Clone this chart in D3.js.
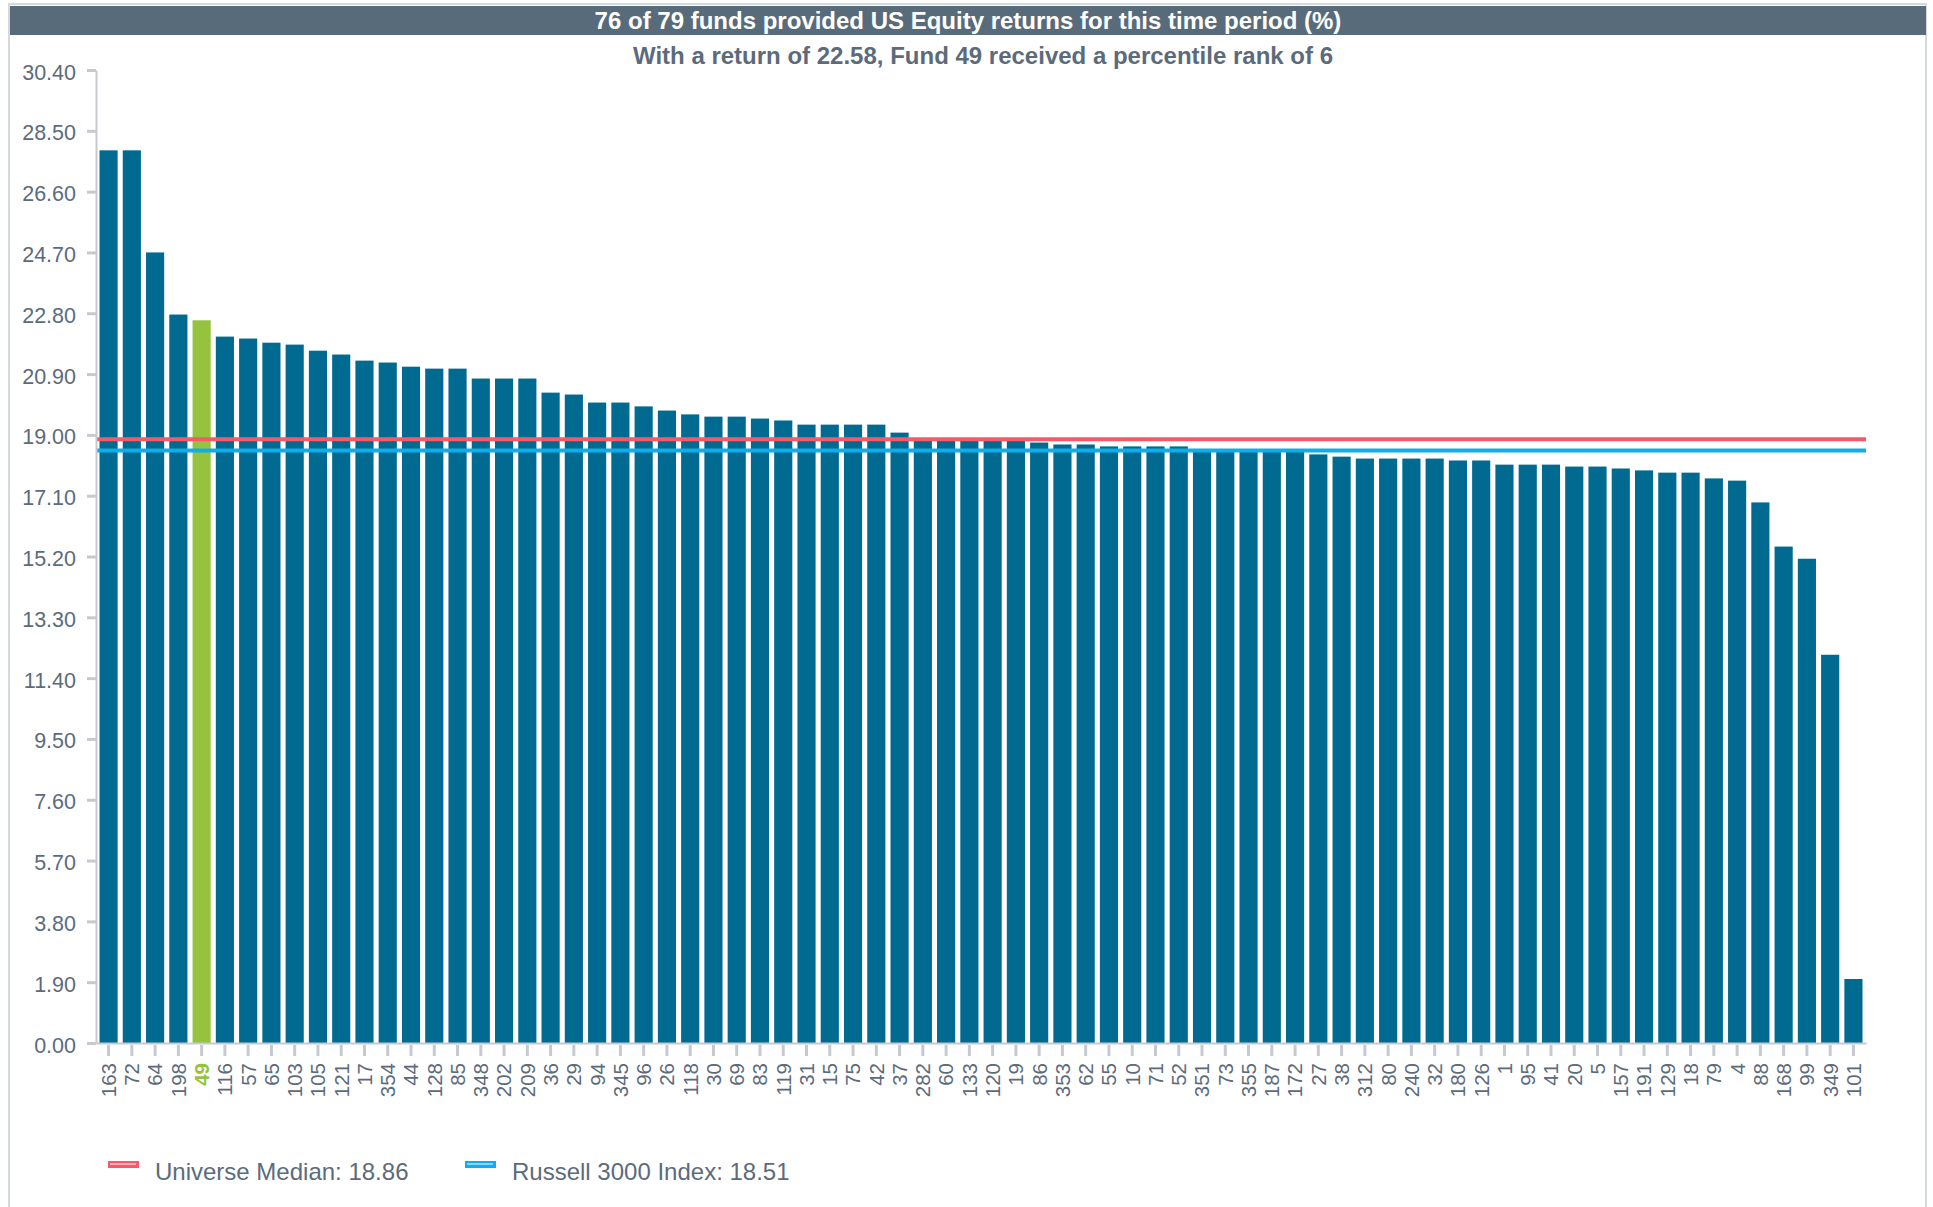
<!DOCTYPE html>
<html>
<head>
<meta charset="utf-8">
<title>US Equity returns</title>
<script src="https://cdn.jsdelivr.net/npm/d3@7/dist/d3.min.js"></script>
<style>
  html, body { margin: 0; padding: 0; background: #ffffff; }
  svg { display: block; font-family: "Liberation Sans", Arial, Helvetica, sans-serif; }
</style>
</head>
<body>
<svg id="chart" width="1933" height="1207"></svg>
<script>
// Fund identifiers, ranked by return
const funds = [
  "163","72","64","198","49","116","57","65","103","105",
  "121","17","354","44","128","85","348","202","209","36",
  "29","94","345","96","26","118","30","69","83","119",
  "31","15","75","42","37","282","60","133","120","19",
  "86","353","62","55","10","71","52","351","73","355",
  "187","172","27","38","312","80","240","32","180","126",
  "1","95","41","20","5","157","191","129","18","79",
  "4","88","168","99","349","101"
];

// Period returns (%) for each fund above
const returns = [
  27.89, 27.89, 24.70, 22.76, 22.58, 22.07, 22.01, 21.88, 21.82, 21.63,
  21.51, 21.32, 21.26, 21.13, 21.07, 21.07, 20.76, 20.76, 20.76, 20.32,
  20.26, 20.01, 20.01, 19.89, 19.76, 19.64, 19.57, 19.57, 19.51, 19.45,
  19.32, 19.32, 19.32, 19.32, 19.07, 18.90, 18.90, 18.90, 18.89, 18.88,
  18.76, 18.70, 18.70, 18.64, 18.64, 18.64, 18.64, 18.56, 18.55, 18.55,
  18.54, 18.54, 18.39, 18.32, 18.26, 18.26, 18.26, 18.26, 18.20, 18.20,
  18.07, 18.07, 18.07, 18.01, 18.01, 17.95, 17.89, 17.82, 17.82, 17.64,
  17.57, 16.89, 15.51, 15.13, 12.13, 2.00
];

const highlightFund = "49";

// Reference lines
const refNames  = ["Universe Median", "Russell 3000 Index"];
const refValues = [18.86, 18.51];
const refColors = ["#f65a69", "#0eaeea"];

// Y axis tick values
const yTicks = [0, 1.9, 3.8, 5.7, 7.6, 9.5, 11.4, 13.3, 15.2, 17.1, 19.0,
                20.9, 22.8, 24.7, 26.6, 28.5, 30.4];

const titleText = "76 of 79 funds provided US Equity returns for this time period (%)";
const subtitleText = "With a return of 22.58, Fund 49 received a percentile rank of 6";

const data = funds.map((f, i) => ({ fund: f, value: returns[i] }));

const textColor = "#5b6b7c";
const axisColor = "#c6cacf";
const barColor = "#006a91";
const highlightColor = "#95c33d";

const svg = d3.select("#chart");

const plot = { left: 96, right: 1866, top: 70, bottom: 1043 };

// outer frame
svg.append("rect")
  .attr("x", 9).attr("y", 4)
  .attr("width", 1917).attr("height", 1230)
  .attr("fill", "none")
  .attr("stroke", "#d4d9df")
  .attr("stroke-width", 2);

// header band
svg.append("rect")
  .attr("x", 10).attr("y", 6)
  .attr("width", 1916).attr("height", 29)
  .attr("fill", "#586b7b");

svg.append("text")
  .attr("x", 968).attr("y", 29)
  .attr("text-anchor", "middle")
  .attr("fill", "#ffffff")
  .attr("font-weight", "bold")
  .attr("font-size", 24)
  .text(titleText);

svg.append("text")
  .attr("x", 983).attr("y", 64)
  .attr("text-anchor", "middle")
  .attr("fill", textColor)
  .attr("font-weight", "bold")
  .attr("font-size", 24)
  .text(subtitleText);

const x = d3.scaleBand()
  .domain(funds)
  .range([plot.left, plot.right])
  .paddingInner(0.22)
  .paddingOuter(0.15);

const y = d3.scaleLinear()
  .domain([0, 30.4])
  .range([plot.bottom, plot.top]);

// bars
svg.append("g")
  .selectAll("rect")
  .data(data)
  .join("rect")
  .attr("x", d => x(d.fund))
  .attr("width", x.bandwidth())
  .attr("y", d => y(d.value))
  .attr("height", d => y(0) - y(d.value))
  .attr("fill", d => d.fund === highlightFund ? highlightColor : barColor);

// reference lines
svg.append("g")
  .selectAll("line")
  .data(refValues)
  .join("line")
  .attr("x1", plot.left).attr("x2", plot.right)
  .attr("y1", d => y(d)).attr("y2", d => y(d))
  .attr("stroke", (d, i) => refColors[i])
  .attr("stroke-width", 4);

// y axis
const yAxis = svg.append("g")
  .attr("transform", `translate(${plot.left},0)`)
  .call(d3.axisLeft(y)
    .tickValues(yTicks)
    .tickFormat(d3.format(".2f"))
    .tickSize(9)
    .tickPadding(11)
    .tickSizeOuter(0));
yAxis.select(".domain").attr("stroke", axisColor).attr("stroke-width", 2);
yAxis.selectAll(".tick line").attr("stroke", axisColor).attr("stroke-width", 3);
yAxis.selectAll(".tick text")
  .attr("fill", textColor)
  .attr("font-size", 21.5)
  .attr("dy", "0.42em")
  .attr("font-family", "'Liberation Sans', Arial, sans-serif");

// x axis
const xAxis = svg.append("g")
  .attr("transform", `translate(0,${plot.bottom})`)
  .call(d3.axisBottom(x).tickSize(13).tickSizeOuter(0).tickPadding(6));
xAxis.select(".domain").attr("stroke", axisColor).attr("stroke-width", 2);
xAxis.selectAll(".tick line")
  .attr("stroke", axisColor).attr("stroke-width", 3).attr("y1", 2);
xAxis.selectAll(".tick text")
  .attr("fill", d => d === highlightFund ? highlightColor : textColor)
  .attr("font-weight", d => d === highlightFund ? "bold" : "normal")
  .attr("font-size", 20.5)
  .attr("font-family", "'Liberation Sans', Arial, sans-serif")
  .attr("text-anchor", "end")
  .attr("dy", "0.36em")
  .attr("transform", "translate(0,6) rotate(-90)")
  .attr("x", -14)
  .attr("y", 0);

// legend
const legendX = [108, 465];
const legend = svg.append("g")
  .selectAll("g")
  .data(refNames)
  .join("g")
  .attr("transform", (d, i) => `translate(${legendX[i]},1165)`);

legend.append("rect")
  .attr("x", 0).attr("y", -4)
  .attr("width", 31).attr("height", 7)
  .attr("fill", (d, i) => refColors[i]);
legend.append("line")
  .attr("x1", 2).attr("x2", 28)
  .attr("y1", -1).attr("y2", -1)
  .attr("stroke", "#ffffff")
  .attr("stroke-width", 1);
legend.append("text")
  .attr("x", 47).attr("y", 15)
  .attr("fill", textColor)
  .attr("font-size", 24)
  .text((d, i) => `${d}: ${refValues[i].toFixed(2)}`);
</script>
</body>
</html>
